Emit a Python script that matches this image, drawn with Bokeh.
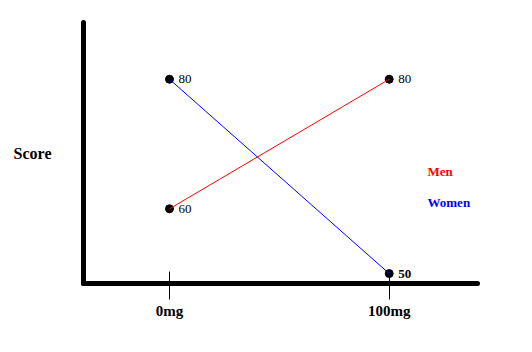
from bokeh.plotting import figure
from bokeh.models import ColumnDataSource, FixedTicker, Range1d, Label
from bokeh.embed import file_html
from bokeh.resources import INLINE
from bokeh.core.properties import value

# ---- data ----
doses = ["0mg", "100mg"]
dose_pos = [0, 1]
men = [60, 80]
women = [80, 50]
series_names = ["Men", "Women"]
y_label = "Score"

FONT = "Liberation Serif"

p = figure(width=532, height=352, output_backend="svg", toolbar_location=None,
           x_range=Range1d(-0.3914, 1.4019), y_range=Range1d(48.47, 88.76),
           min_border_left=83, min_border_right=55, min_border_top=22,
           min_border_bottom=69)
p.grid.visible = False
p.outline_line_color = None
p.background_fill_color = "white"
p.border_fill_color = "white"

# axes
for ax in (p.xaxis[0], p.yaxis[0]):
    ax.axis_line_width = 5
    ax.axis_line_color = "black"
    ax.axis_line_cap = "round"
    ax.minor_tick_line_color = None

p.xaxis.ticker = FixedTicker(ticks=dose_pos)
p.xaxis.major_label_overrides = {pos: lab for pos, lab in zip(dose_pos, doses)}
p.xaxis.major_tick_in = 12
p.xaxis.major_tick_out = 16
p.xaxis.major_tick_line_width = 1
p.xaxis.major_tick_line_color = "black"
p.xaxis.major_label_text_font = FONT
p.xaxis.major_label_text_font_style = "bold"
p.xaxis.major_label_text_font_size = "15px"
p.xaxis.major_label_text_color = "black"
p.xaxis.major_label_standoff = 3

p.yaxis.ticker = FixedTicker(ticks=[])
p.yaxis.major_tick_line_color = None
p.yaxis.axis_label = y_label
p.yaxis.axis_label_orientation = "horizontal"
p.yaxis.axis_label_text_font = FONT
p.yaxis.axis_label_text_font_style = "bold"
p.yaxis.axis_label_text_font_size = "16px"
p.yaxis.axis_label_text_color = "black"
p.yaxis.axis_label_standoff = 32

colors = {"Men": "#ff0000", "Women": "#0000ff"}
label_styles = {"Men": ["normal", "normal"], "Women": ["normal", "bold"]}

for name, vals in zip(series_names, [men, women]):
    src = ColumnDataSource(dict(x=dose_pos, y=vals,
                                txt=[str(v) for v in vals],
                                style=label_styles[name]))
    p.scatter("x", "y", source=src, size=8, color="black")
    p.line("x", "y", source=src, line_color=colors[name], line_width=1)
    p.text("x", "y", text="txt", source=src, x_offset=9, y_offset=0,
           text_font=value(FONT), text_font_size="13px",
           text_font_style="style", text_baseline="middle",
           text_align="left", text_color="black")

# legend-like coloured names
legend_x = 1.1743
legend_y = {"Men": 65.81, "Women": 60.98}
for name in series_names:
    p.add_layout(Label(x=legend_x, y=legend_y[name], text=name,
                       text_font=FONT, text_font_style="bold",
                       text_font_size="13px", text_color=colors[name],
                       text_baseline="middle", text_align="left"))

open("out.html", "w").write(file_html(p, INLINE))
